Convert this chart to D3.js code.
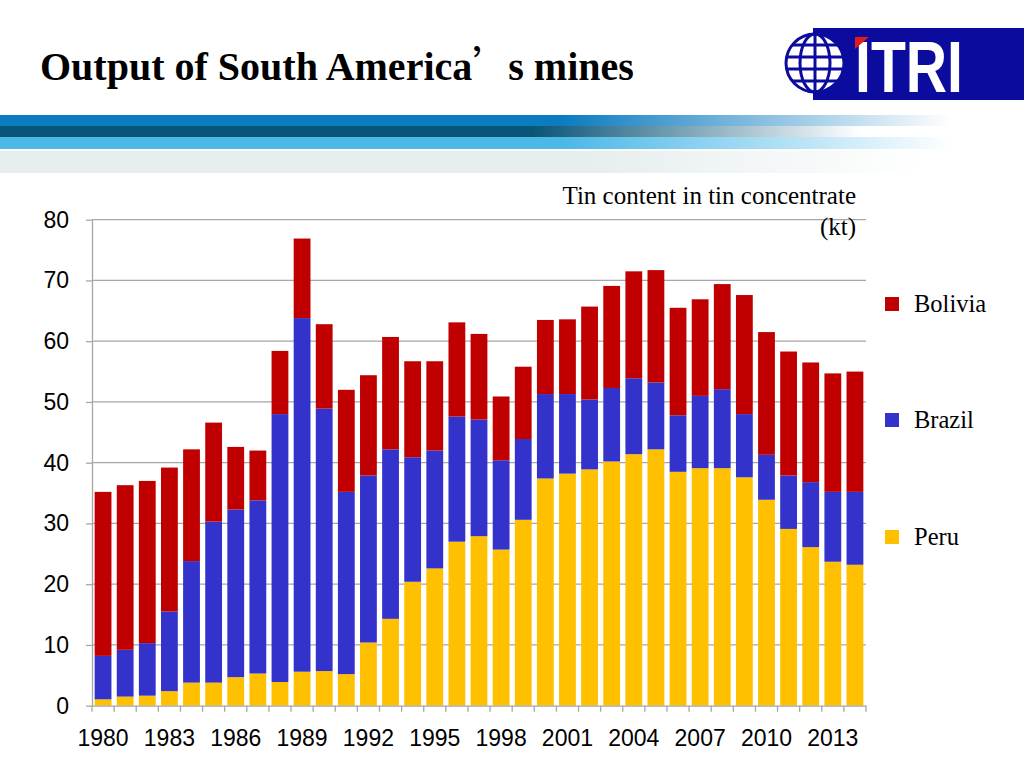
<!DOCTYPE html>
<html>
<head>
<meta charset="utf-8">
<script src="https://cdn.jsdelivr.net/npm/d3@7"></script>
<style>
  html, body { margin: 0; padding: 0; background: #fff; }
  svg { display: block; }
</style>
</head>
<body>
<svg id="chart" width="1024" height="768"></svg>
<script>
// ---- data ----
const years = d3.range(1980, 2015).map(String);
const seriesNames = ["Peru", "Brazil", "Bolivia"];
const peru = [1.05,1.5,1.65,2.4,3.8,3.8,4.7,5.3,3.9,5.6,5.7,5.2,10.4,14.3,20.4,22.6,27.0,27.9,25.7,30.6,37.4,38.2,38.9,40.2,41.4,42.2,38.5,39.1,39.1,37.6,33.9,29.1,26.1,23.7,23.2];
const brazil = [7.15,7.7,8.65,13.1,20.0,26.5,27.6,28.5,44.1,58.2,43.2,30.0,27.5,27.9,20.5,19.4,20.6,19.2,14.7,13.3,13.9,13.1,11.5,12.1,12.5,11.0,9.3,11.9,13.0,10.4,7.4,8.8,10.7,11.5,12.0];
const bolivia = [27.0,27.1,26.7,23.7,18.4,16.3,10.3,8.2,10.4,13.1,13.9,16.8,16.5,18.5,15.8,14.7,15.5,14.1,10.5,11.9,12.2,12.3,15.3,16.8,17.6,18.5,17.7,15.9,17.3,19.6,20.2,20.4,19.7,19.5,19.8];
const yTicks = [0,10,20,30,40,50,60,70,80];
const xTickLabels = ["1980","1983","1986","1989","1992","1995","1998","2001","2004","2007","2010","2013"];
const legendOrder = ["Bolivia", "Brazil", "Peru"];
const colors = { Peru: "#ffc000", Brazil: "#3333cc", Bolivia: "#c00000" };

const rows = years.map((y, i) => ({ year: y, Peru: peru[i], Brazil: brazil[i], Bolivia: bolivia[i] }));

const svg = d3.select("#chart");

// ---- header decoration ----
const defs = svg.append("defs");
function fadeGrad(id, color, start, end) {
  const g = defs.append("linearGradient").attr("id", id)
    .attr("gradientUnits", "userSpaceOnUse").attr("x1", 0).attr("x2", 1024).attr("y1", 0).attr("y2", 0);
  g.append("stop").attr("offset", start).attr("stop-color", color).attr("stop-opacity", 1);
  g.append("stop").attr("offset", end).attr("stop-color", color).attr("stop-opacity", 0);
}
fadeGrad("g1", "#0c7cc0", 0.55, 0.93);
fadeGrad("g2", "#0a5577", 0.52, 0.84);
fadeGrad("g3", "#4cb8e8", 0.55, 0.93);
fadeGrad("g4", "#e6eeee", 0.58, 0.9);
svg.append("rect").attr("x", 0).attr("y", 115).attr("width", 1024).attr("height", 11).attr("fill", "url(#g1)");
svg.append("rect").attr("x", 0).attr("y", 126).attr("width", 1024).attr("height", 11).attr("fill", "url(#g2)");
svg.append("rect").attr("x", 0).attr("y", 137).attr("width", 1024).attr("height", 12).attr("fill", "url(#g3)");
svg.append("rect").attr("x", 0).attr("y", 151).attr("width", 1024).attr("height", 22).attr("fill", "url(#g4)");

// title
const title = svg.append("text").attr("x", 40).attr("y", 80)
  .attr("font-family", "'Liberation Serif', 'Times New Roman', serif")
  .attr("font-weight", "bold").attr("font-size", 40).attr("fill", "#000");
title.append("tspan").text("Output of South America");
title.append("tspan").attr("font-family", "'Noto Sans CJK SC', sans-serif").attr("font-weight", "normal").text("’");
title.append("tspan").attr("dx", -4).text("s mines");

// logo
const logo = svg.append("g");
logo.append("rect").attr("x", 813).attr("y", 28).attr("width", 211).attr("height", 72).attr("fill", "#0b0b9e");
logo.append("circle").attr("cx", 815).attr("cy", 63).attr("r", 29).attr("fill", "#fff").attr("stroke", "#0b0b9e").attr("stroke-width", 3);
[-18, -6, 6, 18].forEach(d => {
  const half = Math.sqrt(29 * 29 - d * d);
  logo.append("line").attr("x1", 815 - half).attr("x2", 815 + half).attr("y1", 63 + d).attr("y2", 63 + d)
    .attr("stroke", "#0b0b9e").attr("stroke-width", 3);
});
logo.append("line").attr("x1", 815).attr("x2", 815).attr("y1", 34).attr("y2", 92).attr("stroke", "#0b0b9e").attr("stroke-width", 3);
logo.append("ellipse").attr("cx", 815).attr("cy", 63).attr("rx", 15).attr("ry", 29).attr("fill", "none").attr("stroke", "#0b0b9e").attr("stroke-width", 3);
logo.append("text").attr("x", 855).attr("y", 92)
  .attr("font-family", "'Liberation Sans', Arial, sans-serif").attr("font-weight", "bold")
  .attr("font-size", 72).attr("fill", "#fff").attr("textLength", 108).attr("lengthAdjust", "spacingAndGlyphs").text("ITRI");
logo.append("path").attr("d", "M855,37 L869,37 L855,49 Z").attr("fill", "#e21a1a");

// ---- chart ----
const margin = { left: 92, right: 866, top: 219.7, bottom: 705.7 };
const x = d3.scaleBand().domain(years).range([margin.left, margin.right]).paddingInner(0.24).paddingOuter(0.12);
const y = d3.scaleLinear().domain([0, 80]).range([margin.bottom, margin.top]);

// gridlines
svg.append("g").selectAll("line").data(yTicks.filter(d => d > 0)).join("line")
  .attr("x1", margin.left).attr("x2", margin.right)
  .attr("y1", d => y(d)).attr("y2", d => y(d))
  .attr("stroke", "#a6a6a6").attr("stroke-width", 1.3);

// bars
const stack = d3.stack().keys(seriesNames);
const stacked = stack(rows);
svg.append("g").selectAll("g").data(stacked).join("g")
  .attr("fill", d => colors[d.key])
  .selectAll("rect").data(d => d).join("rect")
  .attr("x", d => x(d.data.year))
  .attr("width", x.bandwidth())
  .attr("y", d => y(d[1]))
  .attr("height", d => y(d[0]) - y(d[1]));

// y axis
const yAxis = svg.append("g").attr("transform", `translate(${margin.left},0)`)
  .call(d3.axisLeft(y).tickValues(yTicks).tickSize(6).tickPadding(17).tickSizeOuter(0));
yAxis.select(".domain").attr("stroke", "#a6a6a6").attr("stroke-width", 1.3);
yAxis.selectAll(".tick line").attr("stroke", "#a6a6a6").attr("stroke-width", 1.3);
yAxis.selectAll(".tick text").attr("font-family", "'Liberation Sans', Arial, sans-serif")
  .attr("font-size", 23).attr("fill", "#000");

// x axis
const xAxis = svg.append("g").attr("transform", `translate(0,${margin.bottom})`)
  .call(d3.axisBottom(x).tickValues([]).tickSizeOuter(0));
xAxis.select(".domain").attr("stroke", "#a6a6a6").attr("stroke-width", 1.3);
const boundaries = d3.range(years.length + 1).map(i => margin.left + i * (margin.right - margin.left) / years.length);
xAxis.append("g").selectAll("line").data(boundaries).join("line")
  .attr("x1", d => d).attr("x2", d => d).attr("y1", 0).attr("y2", 6)
  .attr("stroke", "#a6a6a6").attr("stroke-width", 1.3);
xAxis.append("g").selectAll("text").data(xTickLabels).join("text")
  .attr("x", d => x(d) + x.bandwidth() / 2).attr("y", 40)
  .attr("text-anchor", "middle")
  .attr("font-family", "'Liberation Sans', Arial, sans-serif").attr("font-size", 23).attr("fill", "#000")
  .text(d => d);

// unit label
const unit = svg.append("g").attr("font-family", "'Liberation Serif', 'Times New Roman', serif")
  .attr("font-size", 25).attr("fill", "#000").attr("text-anchor", "end");
unit.append("text").attr("x", 856).attr("y", 204).text("Tin content in tin concentrate");
unit.append("text").attr("x", 856).attr("y", 235).text("(kt)");

// legend
const legendY = { Bolivia: 304, Brazil: 420, Peru: 537 };
const legend = svg.append("g").selectAll("g").data(legendOrder).join("g")
  .attr("transform", d => `translate(885,${legendY[d]})`);
legend.append("rect").attr("x", 0).attr("y", -7).attr("width", 14).attr("height", 14).attr("fill", d => colors[d]);
legend.append("text").attr("x", 29).attr("y", 8)
  .attr("font-family", "'Liberation Serif', 'Times New Roman', serif").attr("font-size", 24.5).attr("fill", "#000")
  .text(d => d);
</script>
</body>
</html>
